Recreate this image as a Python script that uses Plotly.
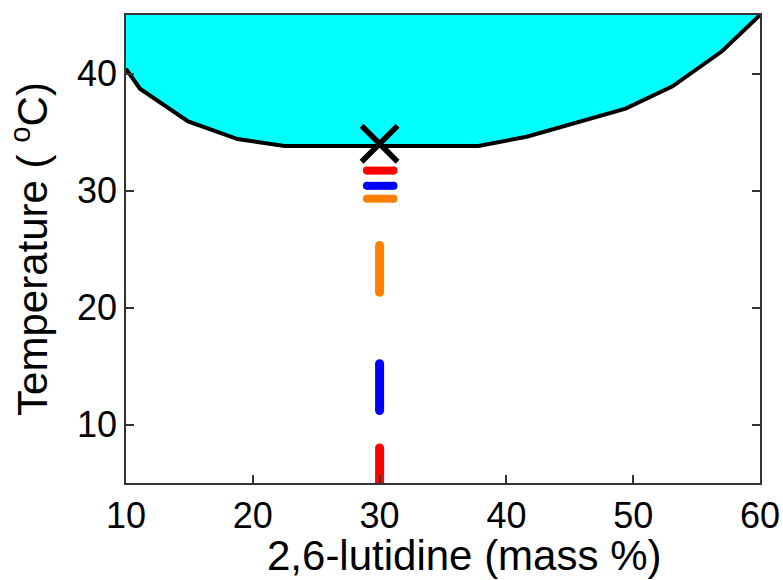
import plotly.graph_objects as go

# Binodal (coexistence) curve of water / 2,6-lutidine
curve_x = [10, 11.1, 14.9, 18.8, 22.5, 37.8, 41.6, 45.2, 49.4, 53.1, 57.0, 60]
curve_y = [40.4, 38.7, 35.9, 34.4, 33.8, 33.8, 34.6, 35.7, 37.0, 38.9, 41.9, 45]

# Critical point
crit_x = [30]
crit_y = [34.0]

# Temperature dashes at the critical composition
dash_colors = ["red", "blue", "#FF8000"]
vert_x = [[30, 30], [30, 30], [30, 30]]
vert_y = [[5, 8.0], [11.2, 15.2], [21.3, 25.3]]
horiz_x = [[29.0, 31.1], [29.0, 31.1], [29.0, 31.1]]
horiz_y = [[31.7, 31.7], [30.4, 30.4], [29.3, 29.3]]

x_range = [10, 60]
y_range = [5, 45]
x_ticks = [10, 20, 30, 40, 50, 60]
y_ticks = [10, 20, 30, 40]

x_title = "2,6-lutidine (mass %)"
y_title = "Temperature ( <sup>o</sup>C)"

fig = go.Figure()

# two-phase region fill (above the curve)
fig.add_trace(go.Scatter(
    x=curve_x + [x_range[1], x_range[0]],
    y=curve_y + [y_range[1], y_range[1]],
    fill="toself", fillcolor="#00FFFF", mode="none",
    hoverinfo="skip", showlegend=False))

fig.add_trace(go.Scatter(
    x=curve_x, y=curve_y, mode="lines",
    line=dict(color="black", width=4), showlegend=False))

for c, xs, ys in zip(dash_colors, vert_x, vert_y):
    fig.add_trace(go.Scatter(
        x=xs, y=ys, mode="lines+markers",
        line=dict(color=c, width=9),
        marker=dict(color=c, size=9, symbol="circle"),
        showlegend=False))

for c, xs, ys in zip(dash_colors, horiz_x, horiz_y):
    fig.add_trace(go.Scatter(
        x=xs, y=ys, mode="lines+markers",
        line=dict(color=c, width=8),
        marker=dict(color=c, size=8, symbol="circle"),
        showlegend=False))

fig.add_trace(go.Scatter(
    x=crit_x, y=crit_y, mode="markers",
    marker=dict(symbol="x-thin", size=36, line=dict(color="black", width=5.5)),
    showlegend=False))

font_family = "Liberation Sans, Arial, sans-serif"
axis_common = dict(
    showgrid=False, zeroline=False, showline=True, automargin=False,
    linecolor="#333333", linewidth=1.5,
    ticks="inside", ticklen=8, tickwidth=1.5, tickcolor="#333333",
    tickfont=dict(family=font_family, size=36, color="black"),
)

fig.update_layout(
    width=783, height=580,
    margin=dict(l=126, r=23, t=15, b=97),
    paper_bgcolor="white", plot_bgcolor="white",
    font=dict(family=font_family, color="black"),
    xaxis=dict(range=x_range, tickvals=x_ticks, mirror=True, **axis_common),
    yaxis=dict(range=y_range, tickvals=y_ticks, mirror="ticks",
               title=dict(text=y_title,
                          font=dict(family=font_family, size=42), standoff=16),
               **axis_common),
    annotations=[dict(
        text=x_title, xref="paper", yref="paper",
        x=0.533, y=-0.155, xanchor="center", yanchor="middle",
        showarrow=False, font=dict(family=font_family, size=42, color="black"))],
)

fig.write_html("out.html")
